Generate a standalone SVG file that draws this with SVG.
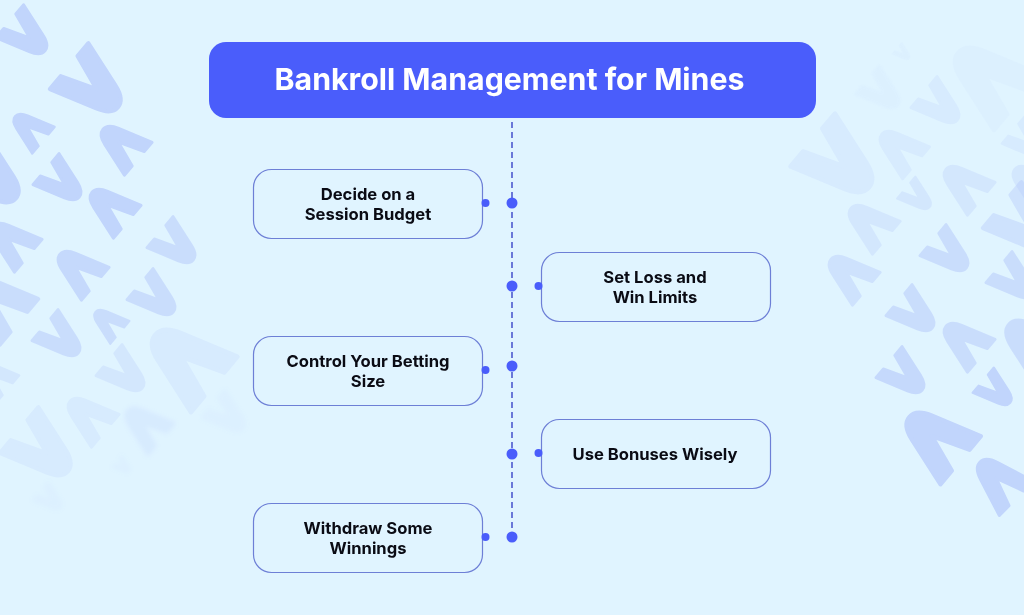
<svg xmlns="http://www.w3.org/2000/svg" xmlns:xlink="http://www.w3.org/1999/xlink" width="1024" height="615" viewBox="0 0 1024 615">
<style>
.bg{fill:#e0f4ff}
.c{fill:#b4c8fb;stroke:#b4c8fb;stroke-width:4;stroke-linejoin:round}
.o9{opacity:.7}.o8{opacity:.6}.o7{opacity:.5}.o5{opacity:.4}.o4{opacity:.28}.o3{opacity:.2}.o1{opacity:.08}
.node{fill:#e0f4ff;stroke:#6d7fd6;stroke-width:1.2}
.t{font-family:Inter,"Liberation Sans",sans-serif;font-weight:700;font-size:16.6px;fill:#0a0b14;text-anchor:middle}
.title{font-family:Inter,"Liberation Sans",sans-serif;font-weight:700;font-size:30.3px;fill:#fff;text-anchor:middle}
.dash{stroke:#6a78d8;stroke-width:2;stroke-dasharray:6 4;fill:none}
.dot{fill:#4a5dfb}
</style>
<defs>
<path id="v" d="M-73,-30L-73,-13L-37,0L-73,13L-73,30L-25,15Q-9,10-9,0Q-9,-10-25,-15Z"/>
<filter id="b" x="-20%" y="-20%" width="140%" height="140%"><feGaussianBlur stdDeviation="2"/></filter>
</defs>
<rect class="bg" width="1024" height="615"/>
<g id="pattern-left" class="c">
<use href="#v" class="o9" transform="translate(50,55) rotate(40) scale(.72)"/>
<use href="#v" class="o9" transform="translate(125,113) rotate(40)"/>
<use href="#v" class="o9" transform="translate(11,113) rotate(220) scale(.58)"/>
<use href="#v" class="o9" transform="translate(98,125) rotate(220) scale(.72)"/>
<use href="#v" class="o9" transform="translate(23,204) rotate(40)"/>
<use href="#v" class="o9" transform="translate(84,201) rotate(40) scale(.68)"/>
<use href="#v" class="o9" transform="translate(87,188) rotate(220) scale(.72)"/>
<use href="#v" class="o7" transform="translate(198,264) rotate(40) scale(.68)"/>
<use href="#v" class="o8" transform="translate(-12,222) rotate(220) scale(.72)"/>
<use href="#v" class="o8" transform="translate(55,250) rotate(220) scale(.72)"/>
<use href="#v" class="o7" transform="translate(178,316) rotate(40) scale(.68)"/>
<use href="#v" class="o7" transform="translate(-37,275) rotate(220)"/>
<use href="#v" class="o7" transform="translate(83,357) rotate(40) scale(.68)"/>
<use href="#v" class="o7" transform="translate(92,309) rotate(220) scale(.5)"/>
<use href="#v" class="o4" transform="translate(147,392) rotate(40) scale(.68)"/>
<use href="#v" class="o3" transform="translate(147,328) rotate(220) scale(1.2)"/>
<use href="#v" class="o4" transform="translate(-26,361) rotate(220) scale(.6)"/>
<use href="#v" class="o3" transform="translate(75,477) rotate(40)"/>
<use href="#v" class="o3" transform="translate(65,397) rotate(220) scale(.72)"/>
<g filter="url(#b)">
<use href="#v" class="o3" transform="translate(123,407) rotate(220) scale(.68)"/>
<use href="#v" class="o1" transform="translate(247,432) rotate(40) scale(.6)"/>
<use href="#v" class="o1" transform="translate(131,473) rotate(40) scale(.25)"/>
<use href="#v" class="o1" transform="translate(63,510) rotate(40) scale(.4)"/>
</g>
</g>
<g id="pattern-right" class="c">
<use href="#v" class="o3" transform="translate(877,194) rotate(40) scale(1.15)"/>
<use href="#v" class="o3" transform="translate(877,130) rotate(220) scale(.7)"/>
<use href="#v" class="o3" transform="translate(962,124) rotate(40) scale(.68)"/>
<use href="#v" class="o1" transform="translate(902,109) rotate(40) scale(.62)" filter="url(#b)"/>
<use href="#v" class="o1" transform="translate(950,46) rotate(220) scale(1.2)"/>
<use href="#v" class="o1" transform="translate(911,60) rotate(40) scale(.25)" filter="url(#b)"/>
<use href="#v" class="o3" transform="translate(1047,158) rotate(40) scale(.6)"/>
<use href="#v" class="o4" transform="translate(1010,165) rotate(220) scale(.7)"/>
<use href="#v" class="o4" transform="translate(941,165) rotate(220) scale(.72)"/>
<use href="#v" class="o4" transform="translate(933,210) rotate(40) scale(.48)"/>
<use href="#v" class="o5" transform="translate(1058,252) rotate(40)"/>
<use href="#v" class="o7" transform="translate(971,272) rotate(40) scale(.68)"/>
<use href="#v" class="o4" transform="translate(846,204) rotate(220) scale(.72)"/>
<use href="#v" class="o5" transform="translate(826,255) rotate(220) scale(.72)"/>
<use href="#v" class="o7" transform="translate(1037,299) rotate(40) scale(.68)"/>
<use href="#v" class="o7" transform="translate(937,332) rotate(40) scale(.68)"/>
<use href="#v" class="o7" transform="translate(941,322) rotate(220) scale(.72)"/>
<use href="#v" class="o7" transform="translate(1002,319) rotate(220)"/>
<use href="#v" class="o8" transform="translate(927,394) rotate(40) scale(.68)"/>
<use href="#v" class="o9" transform="translate(1014,406) rotate(40) scale(.55)"/>
<use href="#v" class="o9" transform="translate(902,411) rotate(220) scale(1.05)"/>
<use href="#v" class="o9" transform="translate(975,457) rotate(225) scale(.8)"/>
</g>
<g id="title">
<rect x="209" y="42" width="607" height="76" rx="17" fill="#4a5dfb"/>
<text class="title" x="509.5" y="90">Bankroll Management for Mines</text>
</g>
<g id="connectors">
<line class="dash" x1="512" y1="122" x2="512" y2="537"/>
<circle class="dot" cx="512" cy="203" r="5.5"/>
<circle class="dot" cx="512" cy="286" r="5.5"/>
<circle class="dot" cx="512" cy="366" r="5.5"/>
<circle class="dot" cx="512" cy="454" r="5.5"/>
<circle class="dot" cx="512" cy="537" r="5.5"/>
</g>
<g id="node-1">
<rect class="node" x="253.5" y="169.5" width="229" height="69" rx="18"/>
<circle class="dot" cx="485.5" cy="203" r="4"/>
<text class="t" x="368" y="200">Decide on a</text>
<text class="t" x="368" y="220">Session Budget</text>
</g>
<g id="node-2">
<rect class="node" x="541.5" y="252.5" width="229" height="69" rx="18"/>
<circle class="dot" cx="538.5" cy="286" r="4"/>
<text class="t" x="655" y="283">Set Loss and</text>
<text class="t" x="655" y="303">Win Limits</text>
</g>
<g id="node-3">
<rect class="node" x="253.5" y="336.5" width="229" height="69" rx="18"/>
<circle class="dot" cx="485.5" cy="370" r="4"/>
<text class="t" x="368" y="367">Control Your Betting</text>
<text class="t" x="368" y="387">Size</text>
</g>
<g id="node-4">
<rect class="node" x="541.5" y="419.5" width="229" height="69" rx="18"/>
<circle class="dot" cx="538.5" cy="453" r="4"/>
<text class="t" x="655" y="460">Use Bonuses Wisely</text>
</g>
<g id="node-5">
<rect class="node" x="253.5" y="503.5" width="229" height="69" rx="18"/>
<circle class="dot" cx="485.5" cy="537" r="4"/>
<text class="t" x="368" y="534">Withdraw Some</text>
<text class="t" x="368" y="554">Winnings</text>
</g>
</svg>
